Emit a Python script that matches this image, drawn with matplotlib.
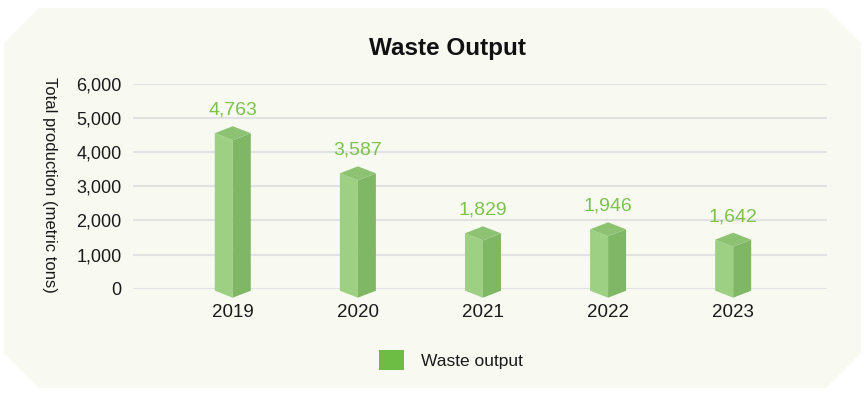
import matplotlib

matplotlib.use("Agg")
import matplotlib.pyplot as plt
from matplotlib.patches import Patch, Polygon

YEARS = ["2019", "2020", "2021", "2022", "2023"]
WASTE = [4763, 3587, 1829, 1946, 1642]
Y_TICKS = [0, 1000, 2000, 3000, 4000, 5000, 6000]

FRONT = "#9dd083"
SIDE = "#80b764"
TOP = "#8dc273"
LABEL_GREEN = "#7cc24b"
LEGEND_GREEN = "#6dbd45"
PANEL = "#f8faf2"
GRID = "#e2e2e2"
FONT = ["Liberation Sans", "DejaVu Sans"]

W, H = 864, 396
plt.rcParams["font.family"] = FONT

fig = plt.figure(figsize=(W / 100, H / 100), dpi=100)
fig.patch.set_facecolor("white")

# octagon panel behind the chart (pixel coords, top origin)
x0, x1, y0, y1, cut = 4, 861, 8, 388, 35
pts = [
    (x0 + cut, y0), (x1 - cut, y0), (x1, y0 + cut), (x1, y1 - cut),
    (x1 - cut, y1), (x0 + cut, y1), (x0, y1 - cut), (x0, y0 + cut),
]
fig.add_artist(Polygon([(px / W, 1 - py / H) for px, py in pts],
                       closed=True, transform=fig.transFigure,
                       facecolor=PANEL, edgecolor="none", zorder=0))

ax_left, ax_right, ax_top, ax_bottom = 132.7, 827, 84, 288.7
ax = fig.add_axes([ax_left / W, 1 - ax_bottom / H,
                   (ax_right - ax_left) / W, (ax_bottom - ax_top) / H])
ax.set_facecolor("none")
xlim = (-0.8, 4.75)
ax.set_xlim(*xlim)
ax.set_ylim(0, 6000)

x_per_px = (xlim[1] - xlim[0]) / (ax_right - ax_left)
y_per_px = 6000 / (ax_bottom - ax_top)

half_w = 18 * x_per_px
depth = 7 * y_per_px
base_side = -2 * y_per_px
base_front = base_side - depth

for i, v in enumerate(WASTE):
    top_side = v - depth
    top_front = v - 2 * depth
    left = [(i - half_w, base_side), (i, base_front), (i, top_front), (i - half_w, top_side)]
    right = [(i, base_front), (i + half_w, base_side), (i + half_w, top_side), (i, top_front)]
    top = [(i - half_w, top_side), (i, top_front), (i + half_w, top_side), (i, v)]
    for poly, col in ((left, FRONT), (right, SIDE), (top, TOP)):
        ax.add_patch(Polygon(poly, closed=True, facecolor=col, edgecolor="none",
                             zorder=3, clip_on=False))
    ax.text(i, v + 16 * y_per_px, f"{v:,}", ha="center", va="center",
            fontsize=14, color=LABEL_GREEN, zorder=4)

ax.set_yticks(Y_TICKS)
ax.set_yticklabels([f"{t:,}" for t in Y_TICKS])
ax.set_xticks(range(len(YEARS)))
ax.set_xticklabels(YEARS)
ax.tick_params(axis="y", length=0, pad=8, labelsize=13, labelcolor="#1a1a1a")
ax.tick_params(axis="x", length=0, pad=11, labelsize=13.5, labelcolor="#1a1a1a")
ax.grid(True, axis="y", color=GRID, linewidth=1.6)
ax.set_axisbelow(True)
for spine in ax.spines.values():
    spine.set_visible(False)

ax.set_ylabel("Total production (metric tons)", rotation=-90, fontsize=12,
              color="#1a1a1a", va="center", ha="center")
ax.yaxis.set_label_coords((49 - ax_left) / (ax_right - ax_left),
                          (ax_bottom - 185) / (ax_bottom - ax_top))

fig.text(447 / W, 1 - 48 / H, "Waste Output", ha="center", va="center",
         fontsize=17.5, fontweight="bold", color="#111111")

fig.legend(handles=[Patch(facecolor=LEGEND_GREEN, edgecolor="none", label="Waste output")],
           loc="center", bbox_to_anchor=(451 / W, 1 - 360 / H), frameon=False,
           fontsize=12.5, handlelength=1.45, handleheight=1.45, handletextpad=1.0,
           labelcolor="#1a1a1a")

fig.savefig("out.png", dpi=100, facecolor=fig.get_facecolor())
